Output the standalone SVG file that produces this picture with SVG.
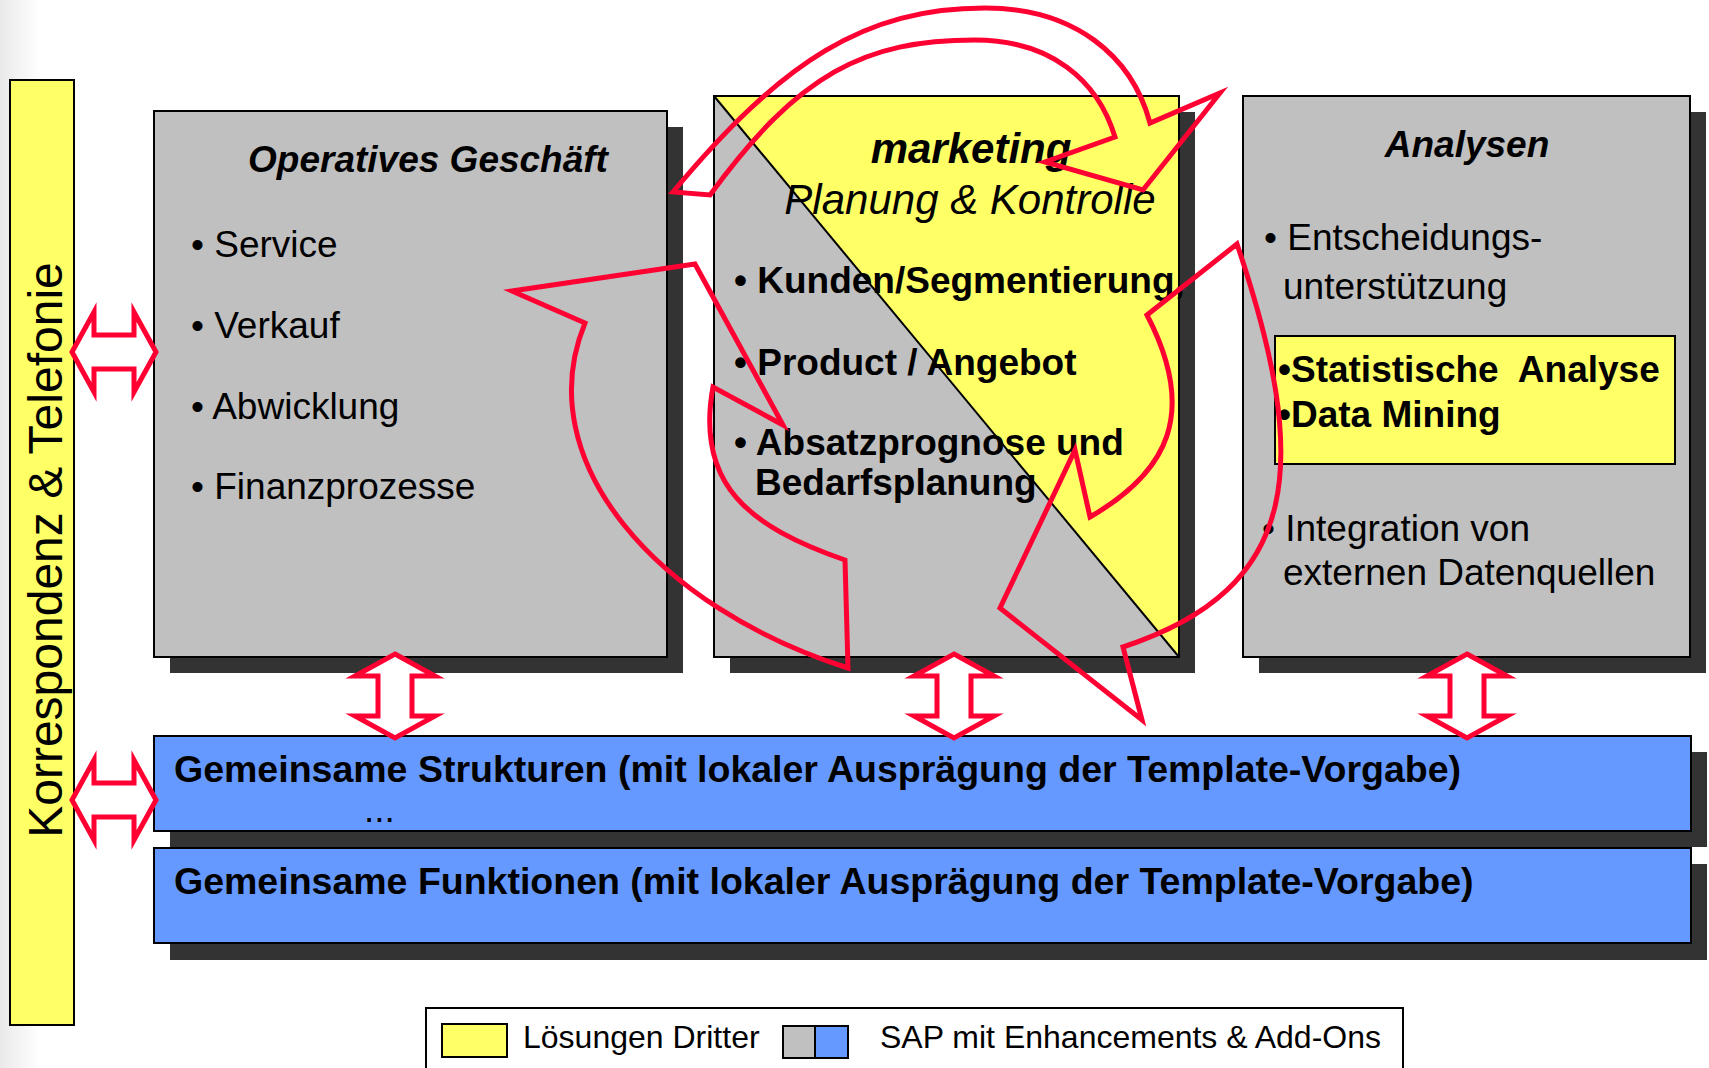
<svg xmlns="http://www.w3.org/2000/svg" xmlns:xlink="http://www.w3.org/1999/xlink" width="1709" height="1068" viewBox="0 0 1709 1068">
  <defs>
    <style>
      text { font-family: "Liberation Sans", Arial, Helvetica, sans-serif; fill: #000; }
      .edge { stroke: #000; stroke-width: 2; }
      .gray { fill: #c0c0c0; }
      .yellow { fill: #ffff66; }
      .blue { fill: #6699ff; }
      .shadow { fill: #333333; }
      .flow { fill: none; stroke: #ff0033; stroke-width: 5; stroke-linejoin: miter; stroke-miterlimit: 10; }
      .dbl { fill: #ffffff; stroke: #ff0033; stroke-width: 5; stroke-linejoin: miter; stroke-miterlimit: 10; }
      .t37 { font-size: 37px; }
      .t375 { font-size: 37.5px; }
      .t42 { font-size: 42px; }
      .t32 { font-size: 32px; }
      .b { font-weight: bold; }
      .i { font-style: italic; }
      .mid { text-anchor: middle; }
    </style>
    <linearGradient id="leftFade" x1="0" y1="0" x2="1" y2="0">
      <stop offset="0" stop-color="#e9e9e9"/>
      <stop offset="1" stop-color="#ffffff"/>
    </linearGradient>
    <!-- hollow two-headed arrow, vertical, centred on the origin -->
    <path id="dblArrow" class="dbl" d="M0,-42 L40,-20 L17,-20 L17,20 L40,20 L0,42 L-40,20 L-17,20 L-17,-20 L-40,-20 Z"/>
  </defs>

  <rect x="0" y="0" width="1709" height="1068" fill="#ffffff"/>
  <rect x="0" y="0" width="40" height="1068" fill="url(#leftFade)"/>

  <!-- vertical bar on the left -->
  <g id="korrespondenz">
    <rect x="10" y="80" width="64" height="945" class="yellow edge"/>
    <text transform="translate(62,550) rotate(-90)" class="mid" font-size="48">Korrespondenz &amp; Telefonie</text>
  </g>

  <!-- Operatives Geschäft -->
  <g id="operatives">
    <rect x="170" y="127" width="513" height="546" class="shadow"/>
    <rect x="154" y="111" width="513" height="546" class="gray edge"/>
    <text x="428" y="172" class="t37 b i mid">Operatives Geschäft</text>
    <text x="191" y="257" class="t37">• Service</text>
    <text x="191" y="338" class="t37">• Verkauf</text>
    <text x="191" y="419" class="t37">• Abwicklung</text>
    <text x="191" y="499" class="t37">• Finanzprozesse</text>
  </g>

  <!-- marketing: split diagonally into grey and yellow -->
  <g id="marketing">
    <rect x="730" y="112" width="465" height="561" class="shadow"/>
    <rect x="714" y="96" width="465" height="561" class="gray"/>
    <polygon points="714,96 1179,96 1179,657" class="yellow"/>
    <line x1="714" y1="96" x2="1179" y2="657" stroke="#000" stroke-width="2"/>
    <rect x="714" y="96" width="465" height="561" fill="none" class="edge"/>
    <text x="971" y="163" class="t42 b i mid">marketing</text>
    <text x="970" y="214" class="t42 i mid">Planung &amp; Kontrolle</text>
    <text x="734" y="293" class="t37 b">• Kunden/Segmentierung,</text>
    <text x="734" y="375" class="t37 b">• Product / Angebot</text>
    <text x="734" y="455" class="t37 b">• Absatzprognose und</text>
    <text x="755" y="495" class="t37 b">Bedarfsplanung</text>
  </g>

  <!-- Analysen -->
  <g id="analysen">
    <rect x="1259" y="112" width="447" height="561" class="shadow"/>
    <rect x="1243" y="96" width="447" height="561" class="gray edge"/>
    <text x="1467" y="157" class="t37 b i mid">Analysen</text>
    <text x="1264" y="250" class="t37">• Entscheidungs-</text>
    <text x="1283" y="299" class="t37">unterstützung</text>
    <rect x="1275" y="336" width="400" height="128" class="yellow edge"/>
    <text x="1278" y="382" class="t37 b">•Statistische&#160; Analyse</text>
    <text x="1278" y="427" class="t37 b">•Data Mining</text>
    <text x="1262" y="541" class="t37">• Integration von</text>
    <text x="1283" y="585" class="t37">externen Datenquellen</text>
  </g>

  <!-- shared layers -->
  <g id="strukturen">
    <rect x="170" y="752" width="1537" height="95" class="shadow"/>
    <rect x="154" y="736" width="1537" height="95" class="blue edge"/>
    <text x="174" y="782" class="t375 b">Gemeinsame Strukturen (mit lokaler Ausprägung der Template-Vorgabe)</text>
    <text x="364" y="822" class="t37">...</text>
  </g>

  <g id="funktionen">
    <rect x="170" y="864" width="1537" height="96" class="shadow"/>
    <rect x="154" y="848" width="1537" height="95" class="blue edge"/>
    <text x="174" y="894" class="t375 b">Gemeinsame Funktionen (mit lokaler Ausprägung der Template-Vorgabe)</text>
  </g>

  <!-- legend -->
  <g id="legend">
    <rect x="426" y="1008" width="977" height="80" fill="#ffffff" class="edge"/>
    <rect x="442" y="1024" width="65" height="33" class="yellow edge"/>
    <text x="523" y="1048" class="t32">Lösungen Dritter</text>
    <rect x="783" y="1026" width="32" height="32" class="gray"/>
    <rect x="815" y="1026" width="33" height="32" class="blue"/>
    <line x1="815" y1="1026" x2="815" y2="1058" stroke="#000" stroke-width="2"/>
    <rect x="783" y="1026" width="65" height="32" fill="none" class="edge"/>
    <text x="880" y="1048" class="t32">SAP mit Enhancements &amp; Add-Ons</text>
  </g>

  <!-- connectors -->
  <g id="connectors">
    <!-- two-headed links -->
    <use xlink:href="#dblArrow" href="#dblArrow" transform="translate(395,696)"/>
    <use xlink:href="#dblArrow" href="#dblArrow" transform="translate(954,696)"/>
    <use xlink:href="#dblArrow" href="#dblArrow" transform="translate(1467,696)"/>
    <use xlink:href="#dblArrow" href="#dblArrow" transform="translate(114,352) rotate(90)"/>
    <use xlink:href="#dblArrow" href="#dblArrow" transform="translate(114,800) rotate(90)"/>

    <!-- cycle: arc over the top into marketing -->
    <path class="flow" d="M673,192 C782,61 865,8 985,8 C1075,8 1132,56 1150,123 L1220,93 L1143,190 L1045,162 L1115,137 C1097.6,79.4 1050,40 975,40 C865,40 798.5,73.5 710,195 Z"/>
    <!-- cycle: right side, down to the bottom of marketing -->
    <path class="flow" d="M1237,244 C1311,463 1303,588 1123,647 L1142,720 L1000,608 L1075,450 L1090,517 C1168,472 1198,413 1147,315 Z"/>
    <!-- cycle: left side, up through Operatives Geschäft -->
    <path class="flow" d="M585,323 L512,291 L695,264 L783,425 L713,387 C695,485 750,527 845,560 L848,668 C658,608 528,461 585,323 Z"/>
  </g>
</svg>
